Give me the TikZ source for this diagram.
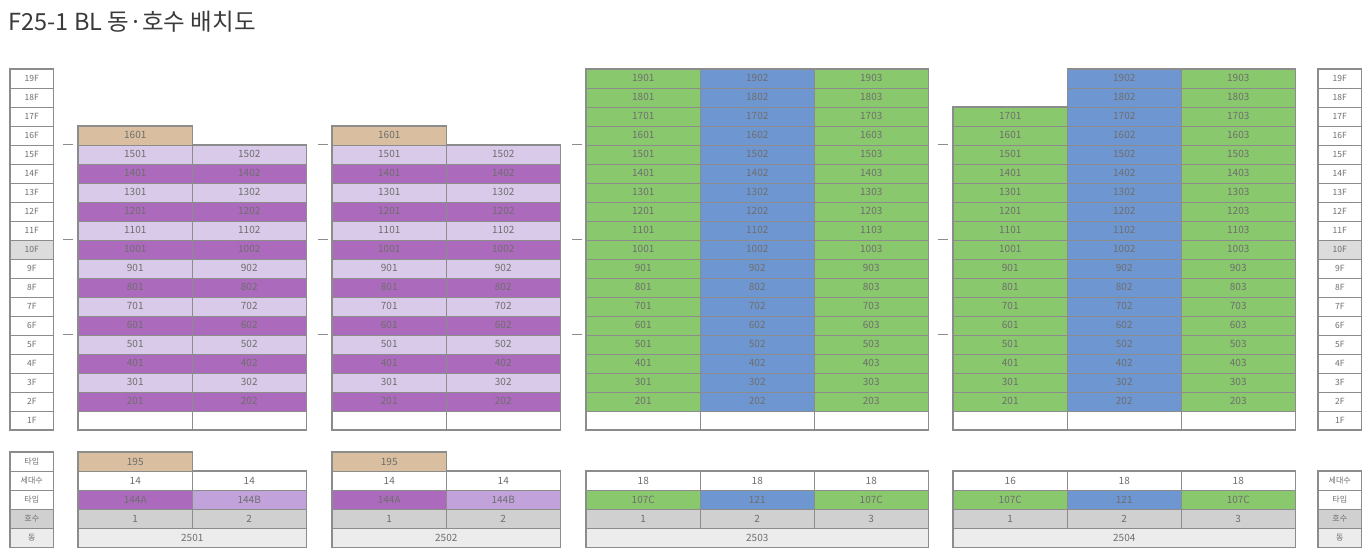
\documentclass[tikz,border=0pt]{standalone}
\usepackage{fontspec}
\setmainfont{Noto Sans CJK KR}
\usetikzlibrary{calc}

\definecolor{ctan}{HTML}{D9BE9F}
\definecolor{plight}{HTML}{D9CAE9}
\definecolor{pdark}{HTML}{AC6ABC}
\definecolor{pmid}{HTML}{C2A2DA}
\definecolor{cgreen}{HTML}{89C86C}
\definecolor{cblue}{HTML}{6E96D0}
\definecolor{cgray}{HTML}{D0D0D0}
\definecolor{clgray}{HTML}{ECECEC}
\definecolor{chl}{HTML}{DCDCDC}
\definecolor{cline}{HTML}{8C8C8C}
\definecolor{ctext}{HTML}{6E6E6E}
\definecolor{ctitle}{HTML}{3A3A3A}

\begin{document}
\begin{tikzpicture}[x=1pt,y=-1pt,
cell/.style={draw=cline,line width=.5pt,fill=white,anchor=north west,inner sep=0pt,
  minimum width=114pt,minimum height=19pt,text=ctext,font=\fontsize{10}{10}\selectfont},
flr/.style={cell,minimum width=43pt,font=\fontsize{8.5}{9}\selectfont},
key/.style={flr,font=\fontsize{8}{8}\selectfont},
frame/.style={draw=cline,line width=1.1pt},
tick/.style={draw=cline,line width=1pt}]

\useasboundingbox (0,0) rectangle (1368,552);

\node[anchor=west,text=ctitle,font=\fontsize{23.5}{26}\selectfont] (title) at (5,22) {F25-1 BL 동·호수 배치도};

\foreach \f in {1,...,19} {
  \ifnum\f=10 \def\c{chl}\else\def\c{white}\fi
  \node[flr,fill=\c] (lf\f) at (10,{68.5+(19-\f)*19}) {\f F};
  \node[flr,fill=\c] (rf\f) at (1318,{68.5+(19-\f)*19}) {\f F};
}
\draw[frame] (lf19.north west) rectangle (lf1.south east);
\draw[frame] (rf19.north west) rectangle (rf1.south east);

\foreach \bx/\bn in {78/a,332/b} {
  \foreach \f in {2,...,15} {
    \ifodd\f \def\c{plight}\else\def\c{pdark}\fi
    \node[cell,fill=\c] (\bn\f01) at (\bx,{68.5+(19-\f)*19}) {\f01};
    \node[cell,fill=\c] (\bn\f02) at (\bx+114,{68.5+(19-\f)*19}) {\f02};
  }
  \node[cell,fill=ctan] (\bn1601) at (\bx,125.5) {1601};
  \node[cell] (\bn101) at (\bx,410.5) {};
  \node[cell] (\bn102) at (\bx+114,410.5) {};
  \draw[frame] (\bn1601.north west) -- (\bn1601.north east) |- (\bn1502.north east)
    -- (\bn102.south east) -- (\bn101.south west) -- cycle;
}

\foreach \bx/\bn/\tf in {586/c/19,953/d/17} {
  \foreach \f in {2,...,19} {
    \node[cell,fill=cblue] (\bn\f02) at (\bx+114,{68.5+(19-\f)*19}) {\f02};
    \node[cell,fill=cgreen] (\bn\f03) at (\bx+228,{68.5+(19-\f)*19}) {\f03};
  }
  \foreach \f in {2,...,\tf} {
    \node[cell,fill=cgreen] (\bn\f01) at (\bx,{68.5+(19-\f)*19}) {\f01};
  }
  \node[cell] (\bn101) at (\bx,410.5) {};
  \node[cell] (\bn102) at (\bx+114,410.5) {};
  \node[cell] (\bn103) at (\bx+228,410.5) {};
  \draw[frame] (\bn\tf01.north west) -- (\bn\tf01.north east) |- (\bn1903.north east)
    -- (\bn103.south east) -- (\bn101.south west) -- cycle;
}

\foreach \dx in {63,318,572,938}
  \foreach \dy in {144.5,239.5,334.5}
    \draw[tick] (\dx,\dy) -- ++(10,0);

\foreach \r/\t/\c in {0/타입/white,1/세대수/white,2/타입/white,3/호수/cgray,4/동/clgray}
  \node[key,fill=\c] (lk\r) at (10,452+\r*19) {\t};
\foreach \r/\t/\c in {1/세대수/white,2/타입/white,3/호수/cgray,4/동/clgray}
  \node[key,fill=\c] (rk\r) at (1318,452+\r*19) {\t};
\draw[frame] (lk0.north west) rectangle (lk4.south east);
\draw[frame] (rk1.north west) rectangle (rk4.south east);

\foreach \bx/\bn/\dn in {78/a/2501,332/b/2502} {
  \node[cell,fill=ctan] (\bn t1) at (\bx,452) {195};
  \node[cell] (\bn s1) at (\bx,471) {14};
  \node[cell] (\bn s2) at (\bx+114,471) {14};
  \node[cell,fill=pdark] (\bn y1) at (\bx,490) {144A};
  \node[cell,fill=pmid] (\bn y2) at (\bx+114,490) {144B};
  \node[cell,fill=cgray] (\bn h1) at (\bx,509) {1};
  \node[cell,fill=cgray] (\bn h2) at (\bx+114,509) {2};
  \node[cell,fill=clgray,minimum width=228pt] (\bn d) at (\bx,528) {\dn};
  \draw[frame] (\bn t1.north west) -- (\bn t1.north east) |- (\bn s2.north east)
    -- (\bn d.south east) -- (\bn d.south west) -- cycle;
}

\foreach \bx/\bn/\dn/\sa in {586/c/2503/18,953/d/2504/16} {
  \node[cell] (\bn s1) at (\bx,471) {\sa};
  \node[cell] (\bn s2) at (\bx+114,471) {18};
  \node[cell] (\bn s3) at (\bx+228,471) {18};
  \node[cell,fill=cgreen] (\bn y1) at (\bx,490) {107C};
  \node[cell,fill=cblue] (\bn y2) at (\bx+114,490) {121};
  \node[cell,fill=cgreen] (\bn y3) at (\bx+228,490) {107C};
  \node[cell,fill=cgray] (\bn h1) at (\bx,509) {1};
  \node[cell,fill=cgray] (\bn h2) at (\bx+114,509) {2};
  \node[cell,fill=cgray] (\bn h3) at (\bx+228,509) {3};
  \node[cell,fill=clgray,minimum width=342pt] (\bn d) at (\bx,528) {\dn};
  \draw[frame] (\bn s1.north west) rectangle (\bn d.south east);
}

\end{tikzpicture}
\end{document}
